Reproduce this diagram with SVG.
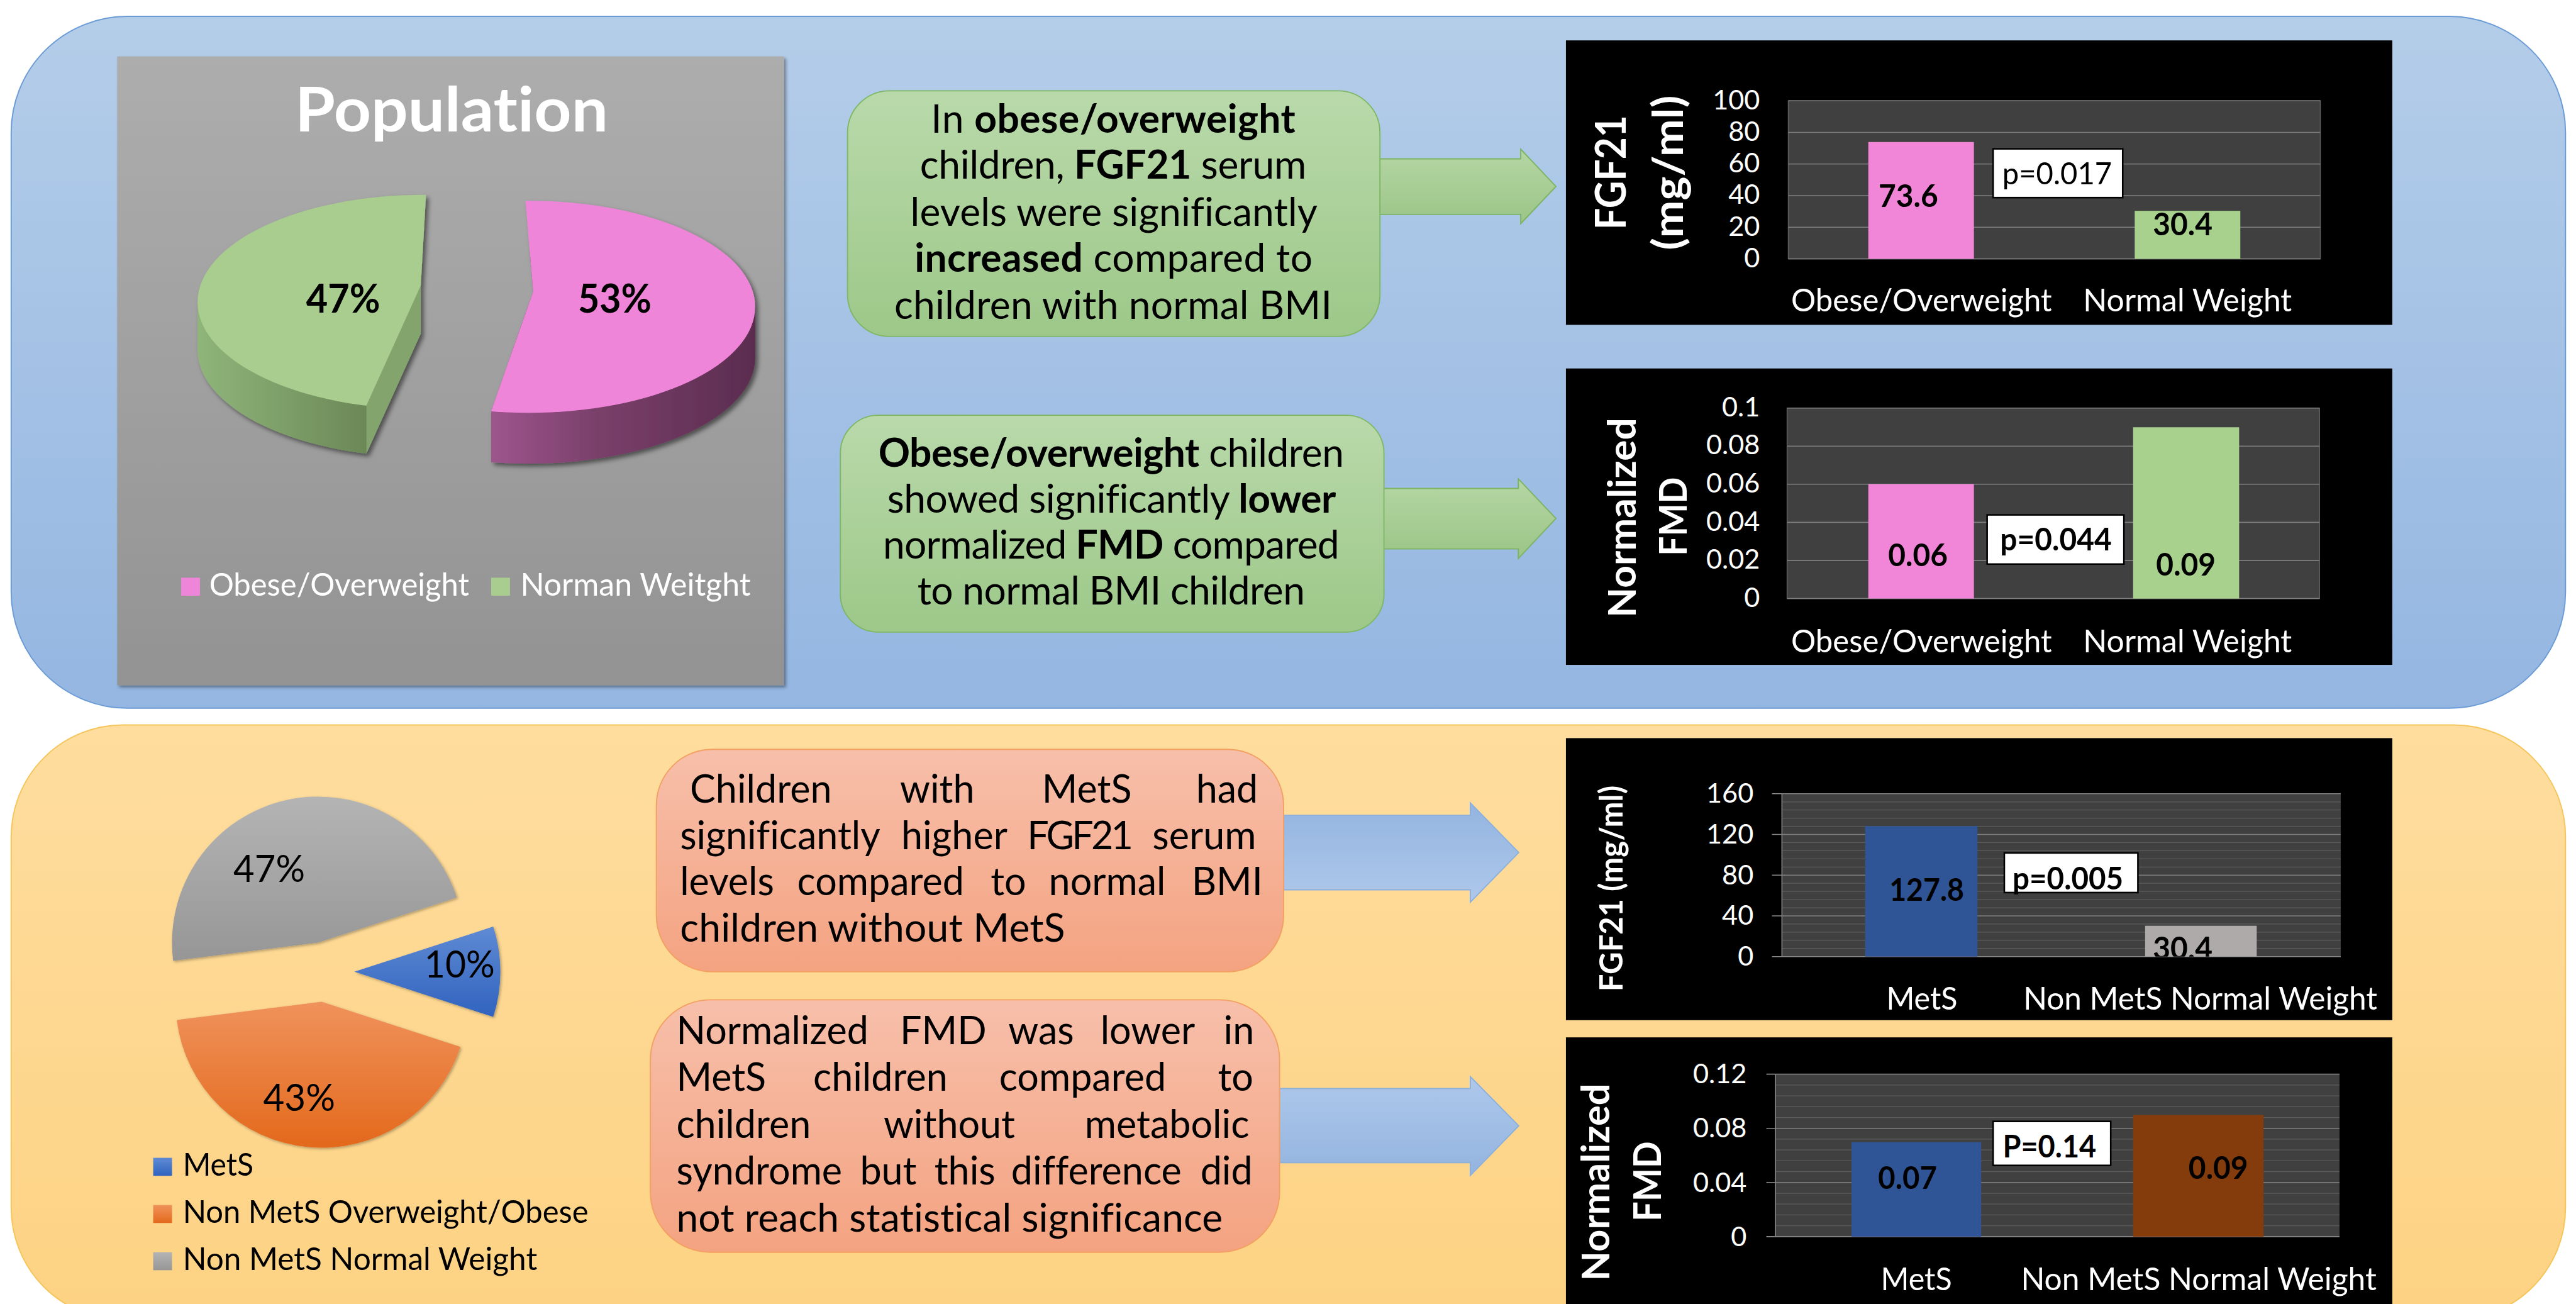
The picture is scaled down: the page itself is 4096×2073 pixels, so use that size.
<svg xmlns="http://www.w3.org/2000/svg" width="4096" height="2073" viewBox="0 0 4096 2073">
<defs>
<style>
.f{font-family:Lato,'Open Sans','Noto Sans',sans-serif;font-variant-ligatures:none;font-feature-settings:"liga" 0,"clig" 0}
.b{font-weight:700}
.w{fill:#fff}
.k{fill:#000}
.bx{font-size:98px;fill:#000}
.bj{font-size:96px;fill:#000}
.ax{font-size:68px;fill:#fff}
.xl{font-size:78px;fill:#fff}
.bl{font-size:77px;font-weight:700;fill:#000}
.pv{font-size:77px;fill:#000}
.grid{stroke:#7f7f7f;stroke-width:2.5;fill:none}
.minor{stroke:#5c5c5c;stroke-width:2;fill:none}
.tick{stroke:#8a8a8a;stroke-width:2.5;fill:none}
.pbox{fill:#fff;stroke:#000;stroke-width:4}
.plot{fill:#404040}
.blk{fill:#000}
.gbox{fill:url(#greenG);stroke:#7fb865;stroke-width:3}
.sbox{fill:url(#salmonG);stroke:#f3a062;stroke-width:3}
.garr{fill:url(#gArrG);stroke:#7db464;stroke-width:3}
</style>
<linearGradient id="bluePanel" x1="0" y1="0" x2="0" y2="1"><stop offset="0" stop-color="#b4cde9"/><stop offset="1" stop-color="#94b6e1"/></linearGradient>
<linearGradient id="orPanel" x1="0" y1="0" x2="0" y2="1"><stop offset="0" stop-color="#fedd9e"/><stop offset="1" stop-color="#fdd283"/></linearGradient>
<linearGradient id="grayG" x1="0" y1="0" x2="0" y2="1"><stop offset="0" stop-color="#adadad"/><stop offset="1" stop-color="#939393"/></linearGradient>
<linearGradient id="greenG" x1="0" y1="0" x2="0" y2="1"><stop offset="0" stop-color="#b9d9aa"/><stop offset="1" stop-color="#9dc889"/></linearGradient>
<linearGradient id="salmonG" x1="0" y1="0" x2="0" y2="1"><stop offset="0" stop-color="#f7bfaa"/><stop offset="1" stop-color="#f4a381"/></linearGradient>
<linearGradient id="gArrG" x1="0" y1="0" x2="0" y2="1"><stop offset="0" stop-color="#b5d6a4"/><stop offset="1" stop-color="#9bc587"/></linearGradient>
<linearGradient id="bArr1" x1="0" y1="0" x2="0" y2="1"><stop offset="0" stop-color="#93b4e0"/><stop offset="1" stop-color="#aec8ea"/></linearGradient>
<linearGradient id="bArr2" x1="0" y1="0" x2="0" y2="1"><stop offset="0" stop-color="#aec8ea"/><stop offset="1" stop-color="#93b4e0"/></linearGradient>
<linearGradient id="gSideG" gradientUnits="userSpaceOnUse" x1="494" y1="0" x2="916" y2="0"><stop offset="0" stop-color="#8fb57a"/><stop offset="1" stop-color="#6b8857"/></linearGradient>
<linearGradient id="pSideG" gradientUnits="userSpaceOnUse" x1="1228" y1="0" x2="1888" y2="0"><stop offset="0" stop-color="#9d558c"/><stop offset="0.4" stop-color="#7a406b"/><stop offset="1" stop-color="#5b2c4f"/></linearGradient>
<linearGradient id="grayP" x1="0" y1="0" x2="0" y2="1"><stop offset="0" stop-color="#b4b4b4"/><stop offset="1" stop-color="#969696"/></linearGradient>
<linearGradient id="blueP" x1="0" y1="0" x2="0" y2="1"><stop offset="0" stop-color="#5f8ad3"/><stop offset="1" stop-color="#3063bf"/></linearGradient>
<linearGradient id="orP" x1="0" y1="0" x2="0" y2="1"><stop offset="0" stop-color="#f0925c"/><stop offset="1" stop-color="#e3691c"/></linearGradient>
<filter id="sh" x="-10%" y="-10%" width="130%" height="130%"><feDropShadow dx="7" dy="7" stdDeviation="6" flood-color="#000" flood-opacity="0.5"/></filter>
<filter id="sh2" x="-5%" y="-5%" width="115%" height="115%"><feDropShadow dx="5" dy="5" stdDeviation="4" flood-color="#000" flood-opacity="0.4"/></filter>
<filter id="sh3" x="-10%" y="-10%" width="130%" height="130%"><feDropShadow dx="3" dy="3" stdDeviation="3" flood-color="#000" flood-opacity="0.3"/></filter>
<clipPath id="gTop"><polygon points="1052,714 1070,400 300,400 300,1314 780,1314"/></clipPath>
<clipPath id="gSide"><polygon points="1052,714 1070,400 300,400 300,1400 916,1400 916,1014"/></clipPath>
<clipPath id="pTop"><polygon points="1333,729 1305,400 2000,400 2000,1430 1087,1429"/></clipPath>
<clipPath id="pSide"><polygon points="1333,729 1305,400 2000,400 2000,1500 1228,1500 1228,1028"/></clipPath>
<clipPath id="c3"><rect x="4455" y="1984" width="1397" height="407"/></clipPath>
</defs>
<g class="f" transform="scale(0.636)">
<g id="panel-top"><rect x="28" y="41" width="6386" height="1729" rx="290" fill="url(#bluePanel)" stroke="#6b9bd6" stroke-width="3"/></g>
<g id="panel-bottom"><rect x="28" y="1812" width="6386" height="1487" rx="280" fill="url(#orPanel)" stroke="#f6c55a" stroke-width="3"/></g>

<g id="connectors">
<polygon class="garr" points="3400,397 3802,397 3802,373 3890,466 3802,559 3802,536 3400,536"/>
<polygon class="garr" points="3400,1221 3796,1221 3796,1197 3890,1296 3796,1396 3796,1372 3400,1372"/>
<polygon fill="url(#bArr1)" stroke="#8cb0dd" stroke-width="3" points="3150,2038 3676,2038 3676,2007 3797,2131 3676,2255 3676,2224 3150,2224"/>
<polygon fill="url(#bArr2)" stroke="#8cb0dd" stroke-width="3" points="3150,2721 3676,2721 3676,2691 3797,2814 3676,2938 3676,2906 3150,2906"/>
</g>

<g id="population-chart">
<rect x="293" y="141" width="1667" height="1572" fill="url(#grayG)" filter="url(#sh2)"/>
<text class="b w" x="1129" y="329" font-size="155" text-anchor="middle" textLength="783" lengthAdjust="spacingAndGlyphs">Population</text>
<g filter="url(#sh)">
<g clip-path="url(#gSide)"><ellipse cx="1060" cy="875" rx="566" ry="268" fill="url(#gSideG)"/><rect x="494" y="755" width="1132" height="120" fill="url(#gSideG)"/></g>
<polygon points="916,1014 1052,714 1052,834 916,1134" fill="#84a46d"/>
<g clip-path="url(#gTop)"><ellipse cx="1060" cy="755" rx="566" ry="268" fill="#a9cd8e"/></g>
</g>
<g filter="url(#sh)">
<g clip-path="url(#pSide)"><ellipse cx="1322" cy="894" rx="566" ry="265" fill="url(#pSideG)"/><rect x="756" y="767" width="1132" height="127" fill="url(#pSideG)"/></g>
<g clip-path="url(#pTop)"><ellipse cx="1322" cy="767" rx="566" ry="265" fill="#ef85d8"/></g>
</g>
<text class="b k" x="858" y="781" font-size="98" text-anchor="middle" textLength="185" lengthAdjust="spacingAndGlyphs">47%</text>
<text class="b k" x="1537" y="781" font-size="98" text-anchor="middle" textLength="184" lengthAdjust="spacingAndGlyphs">53%</text>
<rect x="453" y="1444" width="47" height="45" fill="#ef85d8"/>
<text class="w" x="523" y="1489" font-size="78" textLength="650" lengthAdjust="spacingAndGlyphs">Obese/Overweight</text>
<rect x="1228" y="1444" width="47" height="45" fill="#a9cd8e"/>
<text class="w" x="1301" y="1489" font-size="78" textLength="576" lengthAdjust="spacingAndGlyphs">Norman Weitght</text>
</g>

<g id="box-fgf21-obese">
<rect class="gbox" x="2119" y="227" width="1331" height="614" rx="105"/>
<text class="bx" x="2783" y="331" text-anchor="middle" textLength="911">In <tspan class="b">obese/overweight</tspan></text>
<text class="bx" x="2783" y="447" text-anchor="middle" textLength="966">children, <tspan class="b">FGF21</tspan> serum</text>
<text class="bx" x="2785" y="564" text-anchor="middle" textLength="1018">levels were significantly</text>
<text class="bx" x="2784" y="680" text-anchor="middle" textLength="995"><tspan class="b">increased</tspan> compared to</text>
<text class="bx" x="2783" y="797" text-anchor="middle" textLength="1094">children with normal BMI</text>
</g>

<g id="box-fmd-obese">
<rect class="gbox" x="2101" y="1038" width="1359" height="542" rx="95"/>
<text class="bx" x="2778" y="1166" text-anchor="middle" textLength="1164"><tspan class="b">Obese/overweight</tspan> children</text>
<text class="bx" x="2779" y="1281" text-anchor="middle" textLength="1122">showed significantly <tspan class="b">lower</tspan></text>
<text class="bx" x="2778" y="1396" text-anchor="middle" textLength="1141">normalized <tspan class="b">FMD</tspan> compared</text>
<text class="bx" x="2778" y="1511" text-anchor="middle" textLength="969">to normal BMI children</text>
</g>

<g id="chart-fgf21-obese">
<rect class="blk" x="3915" y="101" width="2066" height="711"/>
<rect class="plot" x="4471" y="252" width="1330" height="395" stroke="#5f5f5f" stroke-width="2.5"/>
<path class="grid" d="M4471 252H5801M4471 331H5801M4471 410H5801M4471 489H5801M4471 568H5801M4471 647H5801"/>
<g class="ax" text-anchor="end"><text x="4400" y="273">100</text><text x="4400" y="352">80</text><text x="4400" y="431">60</text><text x="4400" y="510">40</text><text x="4400" y="589">20</text><text x="4400" y="668">0</text></g>
<rect x="4671" y="355" width="264" height="292" fill="#f186d8"/>
<rect x="5337" y="527" width="264" height="120" fill="#a9d18e"/>
<text class="bl" x="4771" y="518" text-anchor="middle" textLength="149" lengthAdjust="spacingAndGlyphs">73.6</text>
<text class="bl" x="5457" y="588" text-anchor="middle" textLength="149" lengthAdjust="spacingAndGlyphs">30.4</text>
<rect class="pbox" x="4983" y="372" width="324" height="122"/>
<text class="pv" x="5143" y="461" text-anchor="middle" textLength="274" lengthAdjust="spacingAndGlyphs">p=0.017</text>
<text class="xl" x="4804" y="778" text-anchor="middle" textLength="652" lengthAdjust="spacingAndGlyphs">Obese/Overweight</text>
<text class="xl" x="5469" y="778" text-anchor="middle" textLength="522" lengthAdjust="spacingAndGlyphs">Normal Weight</text>
<text class="b w" font-size="105" text-anchor="middle" transform="translate(4064,431) rotate(-90)" textLength="286" lengthAdjust="spacingAndGlyphs">FGF21</text>
<text class="b w" font-size="105" text-anchor="middle" transform="translate(4207,432) rotate(-90)" textLength="387" lengthAdjust="spacingAndGlyphs">(mg/ml)</text>
</g>

<g id="chart-fmd-obese">
<rect class="blk" x="3915" y="921" width="2066" height="741"/>
<rect class="plot" x="4468" y="1020" width="1331" height="476" stroke="#5f5f5f" stroke-width="2.5"/>
<path class="grid" d="M4468 1020H5799M4468 1115.2H5799M4468 1210.4H5799M4468 1305.6H5799M4468 1400.8H5799M4468 1496H5799"/>
<g class="ax" text-anchor="end"><text x="4400" y="1041">0.1</text><text x="4400" y="1136">0.08</text><text x="4400" y="1231">0.06</text><text x="4400" y="1327">0.04</text><text x="4400" y="1422">0.02</text><text x="4400" y="1517">0</text></g>
<rect x="4671" y="1210" width="264" height="286" fill="#f186d8"/>
<rect x="5333" y="1068" width="265" height="428" fill="#a9d18e"/>
<text class="bl" x="4795" y="1415" text-anchor="middle" textLength="149" lengthAdjust="spacingAndGlyphs">0.06</text>
<text class="bl" x="5465" y="1438" text-anchor="middle" textLength="149" lengthAdjust="spacingAndGlyphs">0.09</text>
<rect class="pbox" x="4968" y="1287" width="342" height="123"/>
<text class="bl" x="5140" y="1376" text-anchor="middle" textLength="279" lengthAdjust="spacingAndGlyphs">p=0.044</text>
<text class="xl" x="4804" y="1630" text-anchor="middle" textLength="652" lengthAdjust="spacingAndGlyphs">Obese/Overweight</text>
<text class="xl" x="5469" y="1630" text-anchor="middle" textLength="522" lengthAdjust="spacingAndGlyphs">Normal Weight</text>
<text class="b w" font-size="96" text-anchor="middle" transform="translate(4090,1294) rotate(-90)" textLength="499" lengthAdjust="spacingAndGlyphs">Normalized</text>
<text class="b w" font-size="96" text-anchor="middle" transform="translate(4217,1291) rotate(-90)" textLength="197" lengthAdjust="spacingAndGlyphs">FMD</text>
</g>

<g id="mets-pie">
<g filter="url(#sh3)">
<path d="M795,2356 L432.9,2401.7 A365,365 0 0,1 1142.1,2243.2 Z" fill="url(#grayP)"/>
<path d="M886,2429 L1233.1,2316.2 A365,365 0 0,1 1233.1,2541.8 Z" fill="url(#blueP)"/>
<path d="M804,2504 L1151.1,2616.8 A365,365 0 0,1 441.9,2549.7 Z" fill="url(#orP)"/>
</g>
<text class="k" x="673" y="2205" font-size="94" text-anchor="middle" textLength="179" lengthAdjust="spacingAndGlyphs">47%</text>
<text class="k" x="1149" y="2443" font-size="94" text-anchor="middle" textLength="176" lengthAdjust="spacingAndGlyphs">10%</text>
<text class="k" x="748" y="2776" font-size="94" text-anchor="middle" textLength="180" lengthAdjust="spacingAndGlyphs">43%</text>
<rect x="383" y="2894" width="47" height="45" fill="url(#blueP)"/>
<text class="k" x="457" y="2939" font-size="78" textLength="177" lengthAdjust="spacingAndGlyphs">MetS</text>
<rect x="383" y="3012" width="47" height="45" fill="url(#orP)"/>
<text class="k" x="457" y="3057" font-size="78" textLength="1014" lengthAdjust="spacingAndGlyphs">Non MetS Overweight/Obese</text>
<rect x="383" y="3130" width="47" height="45" fill="url(#grayP)"/>
<text class="k" x="457" y="3175" font-size="78" textLength="886" lengthAdjust="spacingAndGlyphs">Non MetS Normal Weight</text>
</g>

<g id="box-fgf21-mets">
<rect class="sbox" x="1641" y="1873" width="1568" height="556" rx="140"/>
<text class="bj" y="2006"><tspan x="1725">Children</tspan><tspan x="2250">with</tspan><tspan x="2605">MetS</tspan><tspan x="2990">had</tspan></text>
<text class="bj" y="2122"><tspan x="1700">significantly</tspan><tspan x="2253">higher</tspan><tspan x="2568" style="letter-spacing:-6px">FGF21</tspan><tspan x="2881">serum</tspan></text>
<text class="bj" y="2238"><tspan x="1700">levels</tspan><tspan x="1993">compared</tspan><tspan x="2477">to</tspan><tspan x="2622">normal</tspan><tspan x="2979">BMI</tspan></text>
<text class="bx" x="1700" y="2354" textLength="963">children without MetS</text>
</g>

<g id="box-fmd-mets">
<rect class="sbox" x="1626" y="2499" width="1573" height="631" rx="150"/>
<text class="bj" y="2610"><tspan x="1691">Normalized</tspan><tspan x="2250">FMD</tspan><tspan x="2521">was</tspan><tspan x="2751">lower</tspan><tspan x="3059">in</tspan></text>
<text class="bj" y="2727"><tspan x="1691">MetS</tspan><tspan x="2033">children</tspan><tspan x="2498">compared</tspan><tspan x="3045">to</tspan></text>
<text class="bj" y="2844"><tspan x="1691">children</tspan><tspan x="2209">without</tspan><tspan x="2712">metabolic</tspan></text>
<text class="bj" y="2961"><tspan x="1691">syndrome</tspan><tspan x="2150">but</tspan><tspan x="2336">this</tspan><tspan x="2528">difference</tspan><tspan x="3001">did</tspan></text>
<text class="bx" x="1691" y="3078" textLength="1366">not reach statistical significance</text>
</g>

<g id="chart-fgf21-mets">
<rect class="blk" x="3915" y="1845" width="2066" height="705"/>
<rect class="plot" x="4455" y="1984" width="1397" height="407"/>
<path class="minor" d="M4455 2004.35H5852M4455 2024.7H5852M4455 2045.05H5852M4455 2065.4H5852M4455 2106.1H5852M4455 2126.45H5852M4455 2146.8H5852M4455 2167.15H5852M4455 2207.85H5852M4455 2228.2H5852M4455 2248.55H5852M4455 2268.9H5852M4455 2309.6H5852M4455 2329.95H5852M4455 2350.3H5852M4455 2370.65H5852"/>
<path class="grid" d="M4455 1984H5852M4455 2085.75H5852M4455 2187.5H5852M4455 2289.25H5852"/>
<path class="tick" d="M4430 1984H4455M4430 2085.75H4455M4430 2187.5H4455M4430 2289.25H4455M4430 2391H5852M4455 1984V2391"/>
<g class="ax" text-anchor="end"><text x="4384" y="2006">160</text><text x="4384" y="2108">120</text><text x="4384" y="2210">80</text><text x="4384" y="2311">40</text><text x="4384" y="2413">0</text></g>
<rect x="4663" y="2065" width="281" height="326" fill="#2f5597"/>
<rect x="5363" y="2314" width="279" height="77" fill="#aeaaaa"/>
<text class="bl" x="4817" y="2252" text-anchor="middle" textLength="187" lengthAdjust="spacingAndGlyphs">127.8</text>
<g clip-path="url(#c3)"><text class="bl" x="5457" y="2398" text-anchor="middle" textLength="149" lengthAdjust="spacingAndGlyphs">30.4</text></g>
<rect class="pbox" x="5011" y="2132" width="334" height="99"/>
<text class="bl" x="5170" y="2223" text-anchor="middle" textLength="277" lengthAdjust="spacingAndGlyphs">p=0.005</text>
<text class="xl" x="4805" y="2524" text-anchor="middle" textLength="178" lengthAdjust="spacingAndGlyphs">MetS</text>
<text class="xl" x="5501" y="2524" text-anchor="middle" textLength="885" lengthAdjust="spacingAndGlyphs">Non MetS Normal Weight</text>
<text class="b w" font-size="80" text-anchor="middle" transform="translate(4057,2221) rotate(-90)" textLength="515" lengthAdjust="spacingAndGlyphs">FGF21 (mg/ml)</text>
</g>

<g id="chart-fmd-mets">
<rect class="blk" x="3915" y="2593" width="2066" height="720"/>
<rect class="plot" x="4439" y="2685" width="1410" height="406"/>
<path class="minor" d="M4439 2712.07H5849M4439 2739.13H5849M4439 2766.2H5849M4439 2793.27H5849M4439 2847.4H5849M4439 2874.47H5849M4439 2901.53H5849M4439 2928.6H5849M4439 2982.73H5849M4439 3009.8H5849M4439 3036.87H5849M4439 3063.93H5849"/>
<path class="grid" d="M4439 2685H5849M4439 2820.33H5849M4439 2955.67H5849"/>
<path class="tick" d="M4416 2685H4439M4416 2820.33H4439M4416 2955.67H4439M4416 3091H5849M4439 2685V3091"/>
<g class="ax" text-anchor="end"><text x="4367" y="2708">0.12</text><text x="4367" y="2843">0.08</text><text x="4367" y="2979">0.04</text><text x="4367" y="3114">0</text></g>
<rect x="4629" y="2855" width="324" height="236" fill="#2f5597"/>
<rect x="5333" y="2787" width="326" height="304" fill="#843c0c"/>
<text class="bl" x="4769" y="2972" text-anchor="middle" textLength="147" lengthAdjust="spacingAndGlyphs">0.07</text>
<text class="bl" x="5546" y="2947" text-anchor="middle" textLength="149" lengthAdjust="spacingAndGlyphs">0.09</text>
<rect class="pbox" x="4983" y="2803" width="294" height="110"/>
<text class="bl" x="5124" y="2893" text-anchor="middle" textLength="234" lengthAdjust="spacingAndGlyphs">P=0.14</text>
<text class="xl" x="4791" y="3225" text-anchor="middle" textLength="178" lengthAdjust="spacingAndGlyphs">MetS</text>
<text class="xl" x="5497" y="3225" text-anchor="middle" textLength="889" lengthAdjust="spacingAndGlyphs">Non MetS Normal Weight</text>
<text class="b w" font-size="95" text-anchor="middle" transform="translate(4024,2955) rotate(-90)" textLength="494" lengthAdjust="spacingAndGlyphs">Normalized</text>
<text class="b w" font-size="95" text-anchor="middle" transform="translate(4152,2953) rotate(-90)" textLength="200" lengthAdjust="spacingAndGlyphs">FMD</text>
</g>
</g>
</svg>
